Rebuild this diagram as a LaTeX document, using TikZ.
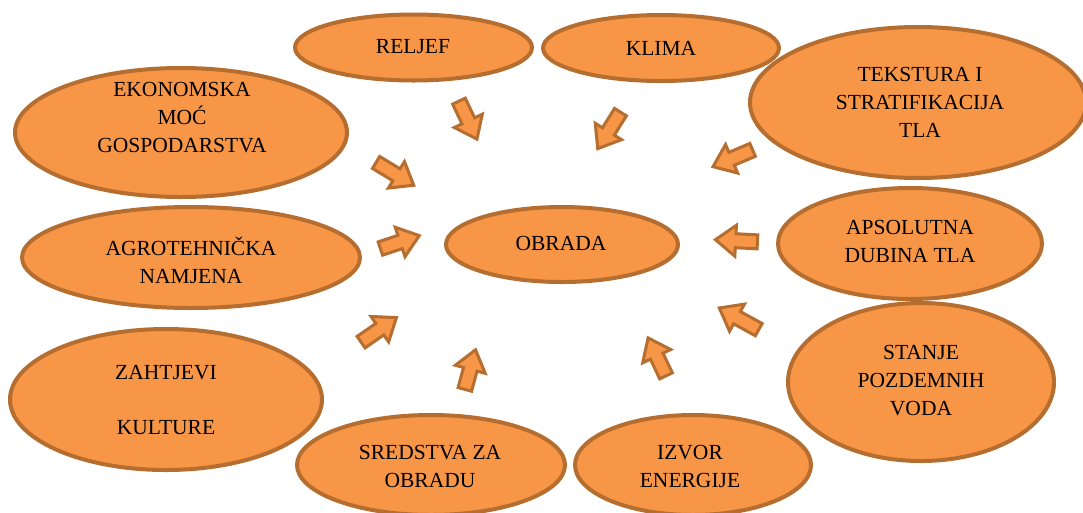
\documentclass[tikz,border=0pt]{standalone}
\usepackage{fontspec}
\setmainfont{Liberation Serif}
\usetikzlibrary{shapes.geometric,shapes.arrows}
\definecolor{fillor}{HTML}{F79646}
\definecolor{edgeor}{HTML}{B66D30}
\tikzset{
  oval/.style={ellipse, draw=edgeor, fill=fillor, line width=4pt, inner sep=0pt},
  lbl/.style={align=center, font=\fontsize{21.5}{28}\selectfont, inner sep=0pt},
  blockarrow/.style={single arrow, draw=edgeor, fill=fillor, line width=3pt,
    inner sep=0pt, inner ysep=5.5pt, single arrow head extend=8.5pt,
    single arrow tip angle=75, minimum height=#1},
}
\begin{document}
\begin{tikzpicture}[x=1pt,y=-1pt]
\useasboundingbox (0,0) rectangle (1083,512);
% ellipses
\node[oval, minimum width=237, minimum height=66] (relj) at (413.5,47.5) {};
\node[oval, minimum width=236, minimum height=66] (klim) at (661,48) {};
\node[oval, minimum width=332, minimum height=129] (ekon) at (181,132.5) {};
\node[oval, minimum width=336, minimum height=151] (teks) at (918,102.5) {};
\node[oval, minimum width=338, minimum height=101] (agro) at (191,257.5) {};
\node[oval, minimum width=232, minimum height=75] (obra) at (562,244.5) {};
\node[oval, minimum width=264, minimum height=111] (apso) at (910,243.5) {};
\node[oval, minimum width=312, minimum height=141] (zaht) at (166,399.5) {};
\node[oval, minimum width=266, minimum height=158] (stan) at (921,382) {};
\node[oval, minimum width=268, minimum height=100] (sred) at (431,465) {};
\node[oval, minimum width=236, minimum height=100] (izvo) at (693,465) {};
% labels
\node[lbl] (trelj) at (413,47) {RELJEF};
\node[lbl] (tklim) at (661,48) {KLIMA};
\node[lbl] (tekon) at (182,118) {EKONOMSKA\\MOĆ\\GOSPODARSTVA};
\node[lbl] (tteks) at (920,102) {TEKSTURA I\\STRATIFIKACIJA\\TLA};
\node[lbl] (tagro) at (191,260) {AGROTEHNIČKA\\NAMJENA};
\node[lbl] (tobra) at (561,243) {OBRADA};
\node[lbl] (tapso) at (910,241) {APSOLUTNA\\DUBINA TLA};
\node[lbl] (tzaht) at (166,400) {ZAHTJEVI\\[27.5pt]KULTURE};
\node[lbl] (tstan) at (921,381) {STANJE\\POZDEMNIH\\VODA};
\node[lbl] (tsred) at (430,466) {SREDSTVA ZA\\OBRADU};
\node[lbl] (tizvo) at (690,466) {IZVOR\\ENERGIJE};
% block arrows
\node[blockarrow=42, rotate=-64.6] (a1) at (466,116) {};
\node[blockarrow=44, rotate=-31.2] (a2) at (391,171.5) {};
\node[blockarrow=43, rotate=-121.9] (a3) at (611.5,126.5) {};
\node[blockarrow=43, rotate=-157] (a4) at (737,156.5) {};
\node[blockarrow=41, rotate=18.4] (a5) at (395.5,243.5) {};
\node[blockarrow=43, rotate=34.8] (a6) at (375,332.5) {};
\node[blockarrow=42, rotate=177] (a7) at (741,241) {};
\node[blockarrow=45, rotate=151.2] (a8) at (743,321) {};
\node[blockarrow=42, rotate=115.3] (a9) at (659,361) {};
\node[blockarrow=41, rotate=74.9] (a10) at (469,374) {};
\end{tikzpicture}
\end{document}
